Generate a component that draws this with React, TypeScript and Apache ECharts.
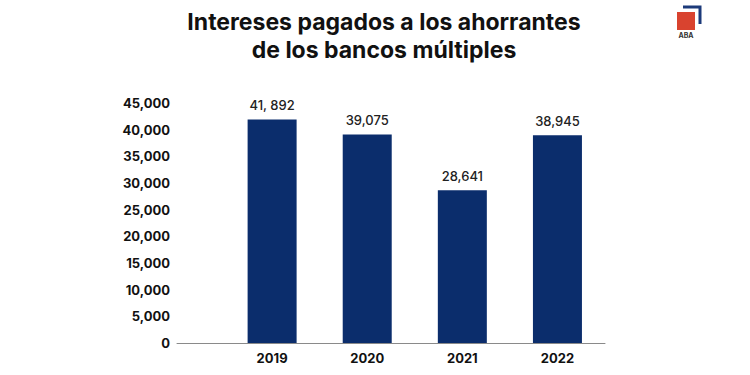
import React, { useEffect, useRef } from "react";
import * as echarts from "echarts";

const years = [2019, 2020, 2021, 2022];
const values = [41892, 39075, 28641, 38945];
const valueLabels = ["41, 892", "39,075", "28,641", "38,945"];
const yTicks = [0, 5000, 10000, 15000, 20000, 25000, 30000, 35000, 40000, 45000];

const FONT = "Inter, 'Noto Sans', sans-serif";

export default function App() {
  const ref = useRef<HTMLDivElement>(null);
  useEffect(() => {
    if (!ref.current) return;
    const chart = echarts.init(ref.current, null, { renderer: "svg" });
    chart.setOption({
      animation: false,
      backgroundColor: "#ffffff",
      title: {
        text: "Intereses pagados a los ahorrantes\nde los bancos múltiples",
        left: 379,
        top: 3,
        textAlign: "center",
        textStyle: {
          fontFamily: FONT,
          fontSize: 23,
          fontWeight: "bold",
          color: "#111111",
          lineHeight: 28,
        },
      },
      grid: { left: 177, right: 145, top: 103, bottom: 32 },
      xAxis: {
        type: "value",
        min: 2018,
        max: 2022.5,
        interval: 1,
        splitLine: { show: false },
        axisTick: { show: false },
        axisLine: { show: true, onZero: false, lineStyle: { color: "#8a8a8a", width: 1 } },
        axisLabel: {
          show: true,
          showMaxLabel: false,
          margin: 8,
          fontFamily: FONT,
          fontSize: 13,
          fontWeight: "bold",
          color: "#111111",
          formatter: (v: number) => (years.includes(v) ? String(v) : ""),
        },
      },
      yAxis: {
        type: "value",
        min: yTicks[0],
        max: yTicks[yTicks.length - 1],
        interval: 5000,
        splitLine: { show: false },
        axisTick: { show: false },
        axisLine: { show: false },
        axisLabel: {
          margin: 7,
          fontFamily: FONT,
          fontSize: 13,
          fontWeight: "bold",
          color: "#111111",
          formatter: (v: number) => v.toLocaleString("en-US"),
        },
      },
      series: [
        {
          type: "bar",
          barWidth: 49,
          data: years.map((y, i) => [y, values[i]]),
          itemStyle: { color: "#0b2d6c" },
          label: {
            show: true,
            position: "top",
            distance: 8,
            fontFamily: FONT,
            fontSize: 13,
            fontWeight: 500,
            color: "#222222",
            formatter: (p: any) => valueLabels[p.dataIndex],
          },
        },
      ],
      graphic: [
        {
          type: "polyline",
          shape: { points: [[683, 7], [700, 7], [700, 24]] },
          style: { stroke: "#1c3a7a", lineWidth: 3, fill: null },
        },
        {
          type: "rect",
          shape: { x: 677, y: 12, width: 18, height: 18 },
          style: { fill: "#d9432f" },
        },
        {
          type: "text",
          x: 686,
          y: 35,
          style: {
            text: "ABA",
            fontFamily: FONT,
            fontSize: 7,
            fontWeight: "bold",
            fill: "#333333",
            align: "center",
            verticalAlign: "middle",
          },
        },
      ],
    });
    return () => chart.dispose();
  }, []);
  return <div ref={ref} style={{ width: 750, height: 375, position: "absolute", left: 0, top: 0 }} />;
}
